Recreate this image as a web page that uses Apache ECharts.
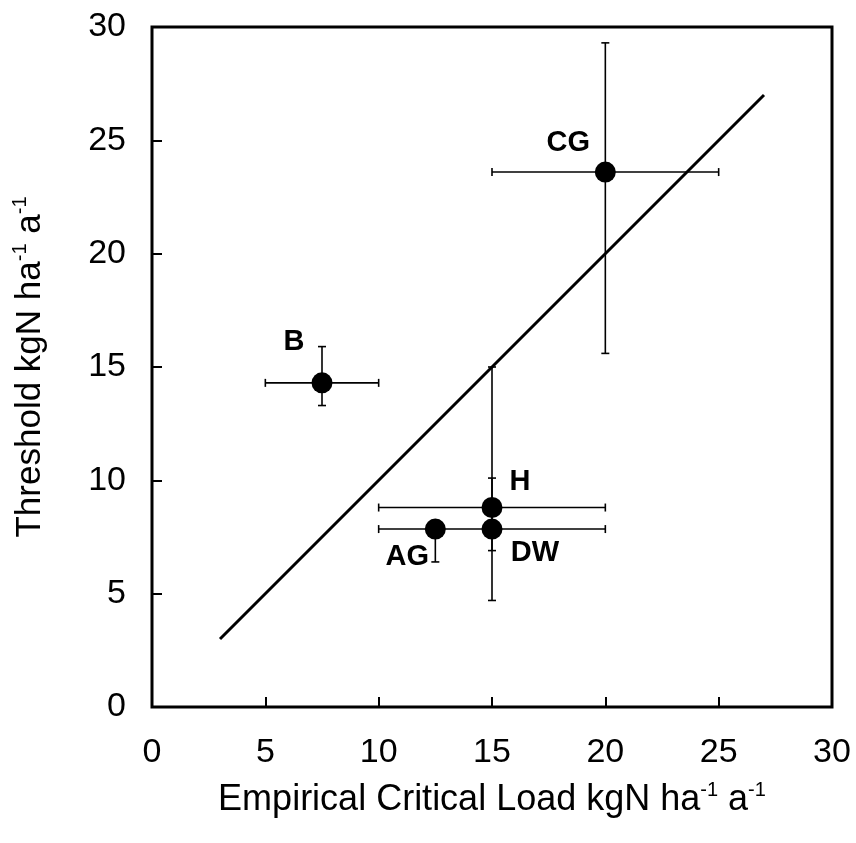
<!DOCTYPE html>
<html>
<head>
<meta charset="utf-8">
<script src="https://cdn.jsdelivr.net/npm/echarts@6/dist/echarts.min.js"></script>
<style>html,body{margin:0;padding:0;background:#fff;}#c{width:856px;height:843px;}</style>
</head>
<body>
<div id="c"></div>
<script>
// ---- data ----
var names = ['CG', 'B', 'H', 'AG', 'DW'];
var critLoad = [20, 7.5, 15, 12.5, 15];
var threshold = [23.6, 14.3, 8.8, 7.85, 7.85];
var xLow = [15, 5, 10, null, 10];
var xHigh = [25, 10, 20, null, 20];
var yLow = [15.6, 13.3, 6.9, 6.4, 4.7];
var yHigh = [29.3, 15.9, 15.0, null, 10.1];
var lineX = [3, 27];
var lineY = [3, 27];
var xTicks = [0, 5, 10, 15, 20, 25, 30];
var yTicks = [0, 5, 10, 15, 20, 25, 30];

// ---- label placement (style) ----
var labelOffsets = {CG: [-37, -29], B: [-28, -41], H: [28, -26], AG: [-28, 28], DW: [43, 24]};

var FONT = 'Liberation Sans, Arial, sans-serif';
var errData = names.map(function (n, i) {
  return [critLoad[i], threshold[i],
    xLow[i] == null ? NaN : xLow[i], xHigh[i] == null ? NaN : xHigh[i],
    yLow[i] == null ? NaN : yLow[i], yHigh[i] == null ? NaN : yHigh[i]];
});
var pointData = names.map(function (n, i) {
  return {name: n, value: [critLoad[i], threshold[i]],
    label: {show: true, formatter: n, position: 'inside', offset: labelOffsets[n]}};
});

var chart = echarts.init(document.getElementById('c'));
var cap = 4;
var st = {stroke: '#000', lineWidth: 1.6};
function seg(x1, y1, x2, y2) {
  return {type: 'line', shape: {x1: x1, y1: y1, x2: x2, y2: y2}, style: st};
}
chart.setOption({
  animation: false,
  grid: {left: 152, top: 27, width: 680, height: 680, show: true, borderColor: '#000', borderWidth: 3, backgroundColor: 'transparent'},
  xAxis: {
    type: 'value', min: 0, max: 30, interval: 5,
    axisLine: {show: false},
    axisTick: {show: true, inside: true, length: 10, lineStyle: {color: '#000', width: 2}},
    splitLine: {show: false},
    axisLabel: {color: '#000', fontSize: 34, fontFamily: FONT, margin: 29,
      formatter: function (v) { return xTicks.indexOf(v) >= 0 ? String(v) : ''; }},
    name: 'Empirical Critical Load kgN ha{s|-1} a{s|-1}',
    nameLocation: 'middle', nameGap: 73,
    nameTextStyle: {color: '#000', fontSize: 36, fontFamily: FONT, lineHeight: 40,
      rich: {s: {fontSize: 20, fontFamily: FONT, color: '#000', verticalAlign: 'top', lineHeight: 22}}}
  },
  yAxis: {
    type: 'value', min: 0, max: 30, interval: 5,
    axisLine: {show: false},
    axisTick: {show: true, inside: true, length: 10, lineStyle: {color: '#000', width: 2}},
    splitLine: {show: false},
    axisLabel: {color: '#000', fontSize: 34, fontFamily: FONT, margin: 26,
      formatter: function (v) { return yTicks.indexOf(v) >= 0 ? String(v) : ''; }},
    name: 'Threshold kgN ha{s|-1} a{s|-1}',
    nameLocation: 'middle', nameGap: 102,
    nameTextStyle: {color: '#000', fontSize: 35, fontFamily: FONT, lineHeight: 40,
      rich: {s: {fontSize: 20, fontFamily: FONT, color: '#000', verticalAlign: 'top', lineHeight: 22}}}
  },
  series: [
    {
      type: 'line', data: lineX.map(function (x, i) { return [x, lineY[i]]; }),
      symbol: 'none', lineStyle: {color: '#000', width: 3}, z: 3
    },
    {
      type: 'custom', data: errData, z: 2,
      renderItem: function (params, api) {
        var ch = [];
        var y = api.value(1), x = api.value(0);
        var xl = api.value(2), xh = api.value(3), yl = api.value(4), yh = api.value(5);
        var c = api.coord([x, y]);
        if (!isNaN(xl)) {
          var p = api.coord([xl, y]);
          ch.push(seg(p[0], p[1], c[0], c[1]), seg(p[0], p[1] - cap, p[0], p[1] + cap));
        }
        if (!isNaN(xh)) {
          var p = api.coord([xh, y]);
          ch.push(seg(c[0], c[1], p[0], p[1]), seg(p[0], p[1] - cap, p[0], p[1] + cap));
        }
        if (!isNaN(yl)) {
          var p = api.coord([x, yl]);
          ch.push(seg(c[0], c[1], p[0], p[1]), seg(p[0] - cap, p[1], p[0] + cap, p[1]));
        }
        if (!isNaN(yh)) {
          var p = api.coord([x, yh]);
          ch.push(seg(c[0], c[1], p[0], p[1]), seg(p[0] - cap, p[1], p[0] + cap, p[1]));
        }
        return {type: 'group', children: ch};
      }
    },
    {
      type: 'scatter', data: pointData, symbol: 'circle', symbolSize: 21, z: 5,
      itemStyle: {color: '#000', opacity: 1},
      label: {color: '#000', fontSize: 29, fontWeight: 'bold', fontFamily: FONT, opacity: 1}
    }
  ]
});
</script>
</body>
</html>
